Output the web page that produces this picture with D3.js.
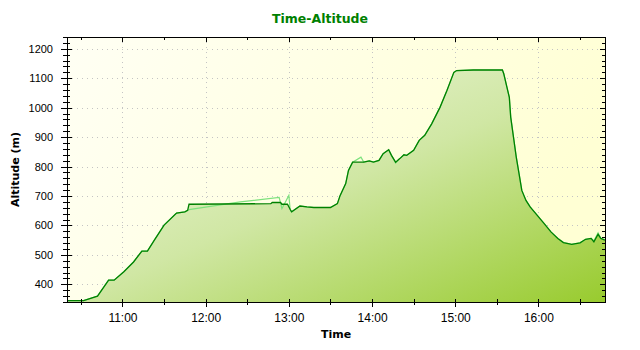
<!DOCTYPE html>
<html lang="en">
<head>
<meta charset="UTF-8">
<title>Time-Altitude</title>
<script src="https://cdn.jsdelivr.net/npm/d3@7"></script>
<style>
  body { margin: 0; background: #fff; }
  svg { display: block; }
  .axis path, .axis line { stroke: #000; shape-rendering: crispEdges; }
  .axis text { fill: #000; font-family: "Liberation Sans", Arial, sans-serif; }
  .grid line { stroke: #c4c4c4; stroke-dasharray: 1,4; shape-rendering: crispEdges; }
  .title { font-family: "DejaVu Sans", sans-serif; font-weight: bold; }
</style>
</head>
<body>
<svg id="chart" width="640" height="350"></svg>
<script>
// smoothed track (dark line)
var times = ["10:20","10:32","10:42","10:50","10:54","11:01","11:08","11:14","11:18","11:23",
  "11:30","11:39","11:45","11:47","11:48","12:47","12:48","12:54","12:55","12:59",
  "13:01","13:02","13:08","13:13","13:18","13:30","13:35","13:37","13:41","13:43",
  "13:46","13:54","13:58","14:01","14:05","14:08","14:12","14:14","14:17","14:20",
  "14:23","14:25","14:30","14:34","14:38","14:43","14:49","14:54","14:59","15:01",
  "15:13","15:34","15:35","15:37","15:39","15:40","15:42","15:44","15:46","15:48",
  "15:51","15:54","15:59","16:04","16:09","16:14","16:18","16:24","16:30","16:34",
  "16:38","16:40","16:43","16:45","16:48"];
var altitude = [345,345,360,414,414,443,476,513,513,550,
  601,642,646,651,672,674,678,678,672,672,
  654,646,666,663,661,661,674,702,742,787,
  815,815,819,815,821,844,857,838,815,827,
  840,838,855,889,906,945,1001,1058,1120,1126,
  1128,1128,1115,1075,1035,968,900,832,776,719,
  685,663,635,607,578,556,542,536,541,553,
  556,544,570,556,550];

// raw track (light line)
var rawTimes = ["10:20","10:32","10:42","10:50","10:54","11:01","11:08","11:14","11:18","11:23",
  "11:30","11:39","11:45","11:47","11:48","12:25","12:53","12:55","13:00","13:01",
  "13:02","13:08","13:13","13:18","13:30","13:35","13:37","13:41","13:43","13:46",
  "13:52","13:54","13:58","14:01","14:05","14:08","14:12","14:14","14:17","14:20",
  "14:23","14:25","14:30","14:34","14:38","14:43","14:49","14:54","14:59","15:01",
  "15:13","15:34","15:35","15:37","15:39","15:40","15:42","15:44","15:46","15:48",
  "15:51","15:54","15:59","16:04","16:09","16:14","16:18","16:24","16:30","16:34",
  "16:38","16:40","16:43","16:45","16:48"];
var rawAltitude = [345,345,360,414,414,443,476,513,513,550,
  601,642,646,651,654,680,695,657,702,652,
  646,666,663,661,661,674,702,742,787,815,
  832,815,819,815,821,844,857,838,812,827,
  840,838,855,889,906,945,1001,1058,1120,1126,
  1128,1128,1115,1075,1035,968,900,832,776,719,
  685,663,635,607,578,556,542,536,541,553,
  556,548,575,556,552];

var yDomain = [340, 1240];
var yMajor = [400, 500, 600, 700, 800, 900, 1000, 1100, 1200];

var width = 640, height = 350;
var margin = {top: 37, right: 35, bottom: 48, left: 67};
var w = width - margin.left - margin.right;
var h = height - margin.top - margin.bottom;

var parse = d3.timeParse("%H:%M");
var dark = times.map(function(t, i) { return {t: parse(t), v: altitude[i]}; });
var raw = rawTimes.map(function(t, i) { return {t: parse(t), v: rawAltitude[i]}; });

var x = d3.scaleTime().domain(d3.extent(dark, function(d) { return d.t; })).range([0, w]);
var y = d3.scaleLinear().domain(yDomain).range([h, 0]);

var svg = d3.select("#chart");
var defs = svg.append("defs");

var bg = defs.append("linearGradient").attr("id", "bg")
  .attr("x1", 0).attr("y1", 0).attr("x2", 1).attr("y2", 0.3);
bg.append("stop").attr("offset", "0%").attr("stop-color", "#fffff4");
bg.append("stop").attr("offset", "100%").attr("stop-color", "#ffffd4");

var fill = defs.append("linearGradient").attr("id", "fill")
  .attr("x1", 0).attr("y1", 0).attr("x2", 1).attr("y2", 1);
fill.append("stop").attr("offset", "0%").attr("stop-color", "#f4faea");
fill.append("stop").attr("offset", "50%").attr("stop-color", "#d0e7a4");
fill.append("stop").attr("offset", "100%").attr("stop-color", "#98cb2e");

defs.append("clipPath").attr("id", "clip")
  .append("rect").attr("width", w).attr("height", h);

var g = svg.append("g").attr("transform", "translate(" + margin.left + "," + margin.top + ")");

g.append("rect").attr("width", w).attr("height", h).attr("fill", "url(#bg)");

// grid
g.append("g").attr("class", "grid")
  .selectAll("line").data(yMajor).enter().append("line")
  .attr("x1", 0).attr("x2", w)
  .attr("y1", function(d) { return Math.round(y(d)) + 0.5; })
  .attr("y2", function(d) { return Math.round(y(d)) + 0.5; });
g.append("g").attr("class", "grid")
  .selectAll("line").data(x.ticks(d3.timeHour.every(1))).enter().append("line")
  .attr("y1", 0).attr("y2", h)
  .attr("x1", function(d) { return Math.round(x(d)) + 0.5; })
  .attr("x2", function(d) { return Math.round(x(d)) + 0.5; });

var plot = g.append("g").attr("clip-path", "url(#clip)");

var area = d3.area()
  .x(function(d) { return x(d.t); })
  .y0(h)
  .y1(function(d) { return y(d.v); });
var line = d3.line()
  .x(function(d) { return x(d.t); })
  .y(function(d) { return y(d.v); });

plot.append("path").datum(dark).attr("d", area).attr("fill", "url(#fill)");
plot.append("path").datum(raw).attr("d", line)
  .attr("fill", "none").attr("stroke", "#7ee27e").attr("stroke-width", 1.2);
plot.append("path").datum(dark).attr("d", line)
  .attr("fill", "none").attr("stroke", "#008000").attr("stroke-width", 1.3);

// axes
var minorY = d3.range(340, 1241, 20);
var hours = d3.timeHour.every(1);
var halfHours = d3.timeMinute.every(30);

function crossTicks(sel, inner, horiz) {
  sel.selectAll(".tick line").attr(horiz ? "y1" : "x1", inner);
}

var left = g.append("g").attr("class", "axis")
  .call(d3.axisLeft(y).tickValues(minorY).tickSize(4).tickSizeOuter(0).tickFormat(""));
crossTicks(left, 3, false);
var leftMajor = g.append("g").attr("class", "axis")
  .call(d3.axisLeft(y).tickValues(yMajor).tickSize(6).tickPadding(8).tickSizeOuter(0)
    .tickFormat(d3.format("d")));
crossTicks(leftMajor, 5, false);
leftMajor.attr("font-size", 11);

g.append("g").attr("class", "axis").attr("transform", "translate(" + w + ",0)")
  .call(d3.axisLeft(y).tickValues(minorY).tickSize(3).tickSizeOuter(0).tickFormat(""));
g.append("g").attr("class", "axis").attr("transform", "translate(" + w + ",0)")
  .call(d3.axisLeft(y).tickValues(yMajor).tickSize(5).tickSizeOuter(0).tickFormat(""));

var bottom = g.append("g").attr("class", "axis").attr("transform", "translate(0," + h + ")")
  .call(d3.axisBottom(x).ticks(halfHours).tickSize(3).tickSizeOuter(0).tickFormat(""));
crossTicks(bottom, -3, true);
var bottomMajor = g.append("g").attr("class", "axis").attr("transform", "translate(0," + h + ")")
  .call(d3.axisBottom(x).ticks(hours).tickSize(5).tickPadding(6).tickSizeOuter(0)
    .tickFormat(d3.timeFormat("%H:%M")));
crossTicks(bottomMajor, -3, true);
bottomMajor.attr("font-size", 12);

g.append("g").attr("class", "axis")
  .call(d3.axisBottom(x).ticks(halfHours).tickSize(3).tickSizeOuter(0).tickFormat(""));
g.append("g").attr("class", "axis")
  .call(d3.axisBottom(x).ticks(hours).tickSize(5).tickSizeOuter(0).tickFormat(""));

// frame
g.append("rect").attr("x", 0.5).attr("y", 0.5).attr("width", w).attr("height", h)
  .attr("fill", "none").attr("stroke", "#000").attr("shape-rendering", "crispEdges");

// titles
svg.append("text").attr("class", "title")
  .attr("x", width / 2).attr("y", 23)
  .attr("text-anchor", "middle").attr("font-size", 12.5).attr("fill", "#008000")
  .text("Time-Altitude");
svg.append("text").attr("class", "title")
  .attr("x", margin.left + w / 2).attr("y", 338)
  .attr("text-anchor", "middle").attr("font-size", 11)
  .text("Time");
svg.append("text").attr("class", "title")
  .attr("transform", "translate(19," + (margin.top + h / 2) + ") rotate(-90)")
  .attr("text-anchor", "middle").attr("font-size", 11)
  .text("Altitude (m)");
</script>
</body>
</html>
